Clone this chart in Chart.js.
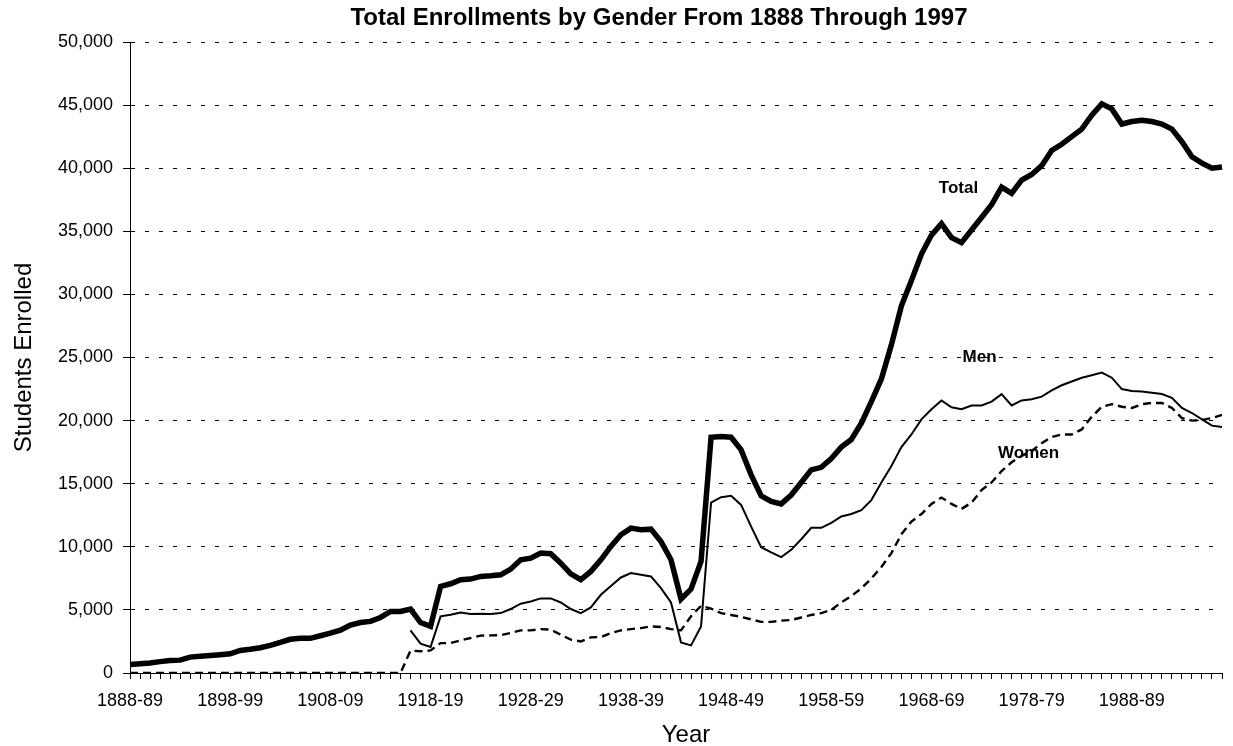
<!DOCTYPE html>
<html>
<head>
<meta charset="utf-8">
<title>Total Enrollments by Gender</title>
<script src="https://cdn.jsdelivr.net/npm/chart.js@4.4.1/dist/chart.umd.min.js"></script>
<style>
  html, body { margin: 0; padding: 0; background: #fff; }
  canvas { display: block; }
</style>
</head>
<body>
<canvas id="enrollments" width="1233" height="746"></canvas>
<script>
// school years 1888-89 .. 1997-98
const years = [];
for (let y = 1888; y <= 1997; y++) years.push(y + '-' + String((y + 1) % 100).padStart(2, '0'));

// only every tenth year gets a label
const labeledYears = ['1888-89', '1898-99', '1908-09', '1918-19', '1928-29', '1938-39',
  '1948-49', '1958-59', '1968-69', '1978-79', '1988-89'];

const totalEnrolled = [
  670, 730, 800, 900, 990, 1020, 1260, 1320, 1390, 1450,
  1520, 1790, 1880, 2000, 2190, 2420, 2670, 2750, 2750, 2950,
  3160, 3400, 3800, 4000, 4090, 4400, 4880, 4880, 5070, 4000,
  3700, 6860, 7070, 7390, 7440, 7650, 7700, 7780, 8230, 8970,
  9100, 9500, 9450, 8700, 7860, 7390, 8050, 8970, 10030, 10950,
  11480, 11350, 11400, 10420, 8970, 5860, 6650, 8840, 18680, 18730,
  18680, 17680, 15700, 14040, 13590, 13400, 14100, 15100, 16100, 16300,
  17000, 17900, 18500, 19800, 21500, 23300, 26000, 29100, 31100, 33200,
  34700, 35600, 34500, 34100, 35100, 36100, 37100, 38500, 38000, 39050,
  39500, 40200, 41400, 41900, 42500, 43100, 44200, 45100, 44700, 43500,
  43700, 43800, 43700, 43500, 43100, 42100, 40900, 40400, 40000, 40100
];

const menEnrolled = [
  null, null, null, null, null, null, null, null, null, null,
  null, null, null, null, null, null, null, null, null, null,
  null, null, null, null, null, null, null, null, 3380, 2320,
  2060, 4490, 4620, 4800, 4670, 4700, 4670, 4750, 5070, 5490,
  5670, 5910, 5910, 5590, 5070, 4750, 5200, 6200, 6900, 7570,
  7920, 7780, 7650, 6730, 5590, 2430, 2190, 3690, 13510, 13930,
  14040, 13320, 11600, 9970, 9550, 9180, 9760, 10600, 11500, 11500,
  11900, 12400, 12600, 12900, 13700, 15100, 16400, 17900, 18900, 20100,
  20900, 21600, 21050, 20900, 21200, 21200, 21500, 22100, 21200, 21600,
  21700, 21900, 22400, 22800, 23100, 23400, 23600, 23800, 23400, 22500,
  22350, 22300, 22200, 22100, 21800, 21000, 20600, 20100, 19600, 19500
];

const womenEnrolled = [
  0, 0, 0, 0, 0, 0, 0, 0, 0, 0,
  0, 0, 0, 0, 0, 0, 0, 0, 0, 0,
  0, 0, 0, 0, 0, 0, 0, 0, 1770, 1720,
  1790, 2370, 2370, 2590, 2770, 2960, 2980, 3000, 3170, 3380,
  3380, 3480, 3430, 3030, 2640, 2500, 2820, 2850, 3170, 3380,
  3480, 3560, 3690, 3640, 3480, 3380, 4490, 5330, 5100, 4750,
  4600, 4450, 4250, 4050, 4050, 4150, 4200, 4400, 4600, 4750,
  5000, 5600, 6100, 6700, 7500, 8400, 9500, 11000, 12000, 12600,
  13400, 13900, 13400, 13000, 13500, 14500, 15100, 16000, 16700, 17200,
  17600, 18200, 18700, 18900, 18900, 19300, 20300, 21100, 21300, 21100,
  21000, 21300, 21400, 21400, 21000, 20200, 20000, 20050, 20200, 20450
];

const seriesNames = ['Total', 'Men', 'Women'];
const chartTitle = 'Total Enrollments by Gender From 1888 Through 1997';

// where the series names sit: [category index, students]
const nameSpots = [[82.7, 38400], [84.8, 25000], [89.7, 17400]];

const FONT = 'Arial, "Liberation Sans", sans-serif';

// title, axis titles and series names, drawn like the Excel original
const textPlugin = {
  id: 'excelText',
  afterDraw(chart) {
    const { ctx, chartArea, scales: { x, y } } = chart;
    ctx.save();
    ctx.fillStyle = '#000';
    ctx.textAlign = 'center';
    ctx.textBaseline = 'alphabetic';

    ctx.font = 'bold 24px ' + FONT;
    ctx.fillText(chartTitle, 659, 25);

    ctx.font = '24px ' + FONT;
    ctx.fillText('Year', 686, 742);

    ctx.save();
    ctx.translate(31, (chartArea.top + chartArea.bottom) / 2);
    ctx.rotate(-Math.PI / 2);
    ctx.fillText('Students Enrolled', 0, 0);
    ctx.restore();

    ctx.font = 'bold 17px ' + FONT;
    ctx.textBaseline = 'middle';
    seriesNames.forEach((name, i) => {
      const [idx, val] = nameSpots[i];
      ctx.fillText(name, x.getPixelForValue(idx), y.getPixelForValue(val));
    });
    ctx.restore();
  }
};

const ctx = document.getElementById('enrollments').getContext('2d');
new Chart(ctx, {
  type: 'line',
  data: {
    labels: years,
    datasets: [
      {
        label: seriesNames[0],
        data: totalEnrolled,
        borderColor: '#000',
        borderWidth: 5.5,
        pointRadius: 0,
        tension: 0
      },
      {
        label: seriesNames[1],
        data: menEnrolled,
        borderColor: '#000',
        borderWidth: 2,
        pointRadius: 0,
        tension: 0
      },
      {
        label: seriesNames[2],
        data: womenEnrolled,
        borderColor: '#000',
        borderWidth: 2.4,
        borderDash: [8, 5],
        pointRadius: 0,
        tension: 0
      }
    ]
  },
  options: {
    responsive: false,
    animation: false,
    layout: { padding: { top: 42, right: 0, bottom: 0, left: 0 } },
    plugins: {
      legend: { display: false },
      title: { display: false },
      tooltip: { enabled: false }
    },
    scales: {
      x: {
        offset: false,
        grid: {
          drawOnChartArea: false,
          drawTicks: true,
          tickLength: 6,
          color: '#000'
        },
        border: { display: true, color: '#000', width: 1 },
        ticks: {
          autoSkip: false,
          maxRotation: 0,
          padding: 11,
          color: '#000',
          font: { family: FONT, size: 18 },
          callback: function (value, index) {
            const lab = this.getLabelForValue(value);
            return labeledYears.includes(lab) ? lab : '';
          }
        },
        afterFit: (scale) => { scale.height = 73; }
      },
      y: {
        min: 0,
        max: 50000,
        grid: {
          color: '#000',
          lineWidth: 1,
          tickLength: 7,
          tickBorderDash: []
        },
        border: { display: true, color: '#000', width: 1, dash: [4, 10] },
        ticks: {
          stepSize: 5000,
          padding: 10,
          color: '#000',
          font: { family: FONT, size: 18 },
          callback: (v) => v.toLocaleString('en-US')
        },
        afterFit: (scale) => { scale.width = 130; }
      }
    }
  },
  plugins: [textPlugin]
});
</script>
</body>
</html>
